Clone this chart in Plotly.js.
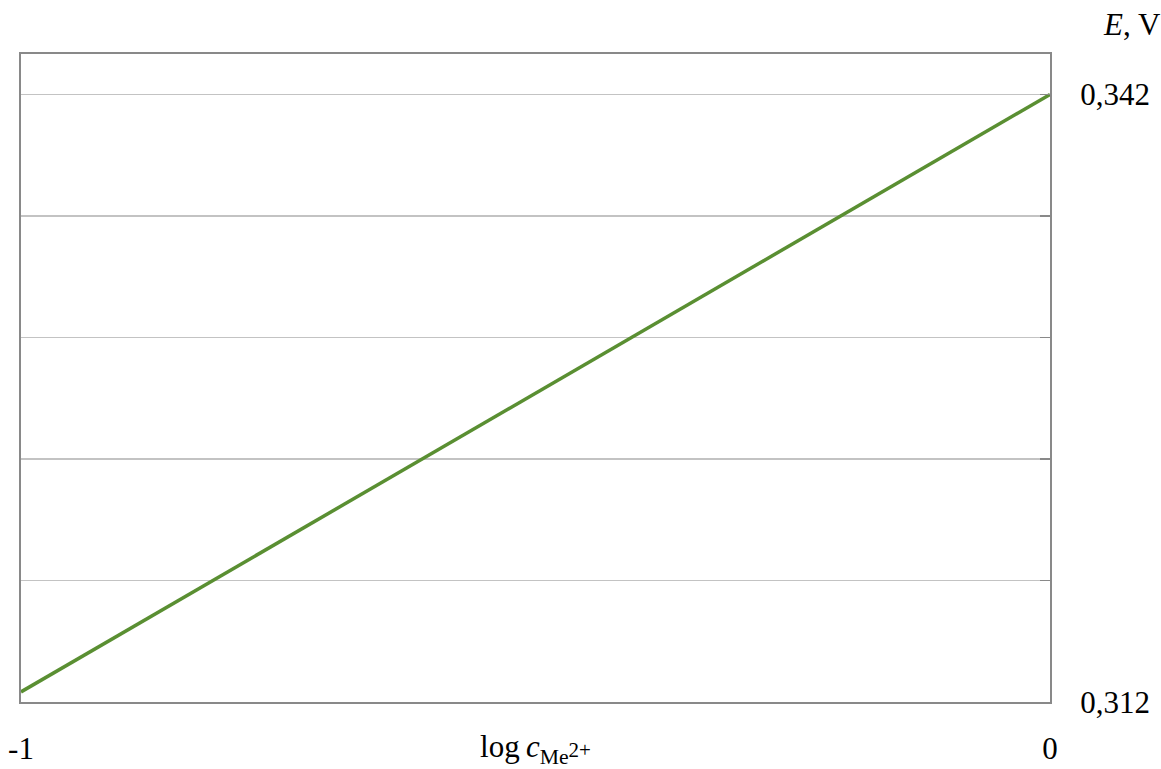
<!DOCTYPE html>
<html>
<head>
<meta charset="utf-8">
<script src="https://cdn.plot.ly/plotly-3.0.1.min.js"></script>
<style>html,body{margin:0;padding:0;background:#fff;}#chart{width:1161px;height:769px;}</style>
</head>
<body>
<div id="chart"></div>
<script>
const logC = [-1, 0];
const potentialE = [0.3125, 0.342];
const yGridVals = [0.312, 0.318, 0.324, 0.330, 0.336, 0.342];
const yTickText = ["0,312", "", "", "", "", "0,342"];
const xTickVals = [-1, 0];
const xTickText = ["-1", "0"];

const serif = "Liberation Serif, Cambria, Times New Roman, serif";

const trace = {
  x: logC,
  y: potentialE,
  type: "scatter",
  mode: "lines",
  line: {color: "#5a8f32", width: 3.5},
  hoverinfo: "skip"
};

const layout = {
  width: 1161,
  height: 769,
  margin: {l: 21, r: 111, t: 54, b: 67},
  paper_bgcolor: "#ffffff",
  plot_bgcolor: "#ffffff",
  showlegend: false,
  font: {family: serif, size: 31, color: "#000"},
  xaxis: {
    range: [-1, 0],
    tickvals: xTickVals,
    ticktext: xTickText,
    showgrid: false,
    zeroline: false,
    showline: true,
    linecolor: "#898989",
    linewidth: 2,
    mirror: true,
    ticks: "",
    ticklabelstandoff: 18,
    tickfont: {family: serif, size: 31, color: "#000"},
    title: {
      text: "log\u2009<i>c</i><sub>Me</sub><span style='font-size:21px'>2+</span>",
      font: {family: serif, size: 31, color: "#000"},
      standoff: 3
    }
  },
  yaxis: {
    range: [0.312, 0.344],
    side: "right",
    tickvals: yGridVals,
    ticktext: yTickText,
    showgrid: true,
    gridcolor: "#c3c3c3",
    gridwidth: 1.5,
    zeroline: false,
    showline: true,
    linecolor: "#898989",
    linewidth: 2,
    mirror: true,
    ticks: "inside",
    ticklen: 10,
    tickwidth: 1.5,
    tickcolor: "#898989",
    ticklabelstandoff: 22,
    tickfont: {family: serif, size: 31, color: "#000"}
  },
  annotations: [
    {
      text: "<i>E</i>, V",
      xref: "paper", yref: "paper",
      x: 1.08, y: 1.0,
      xanchor: "center", yanchor: "bottom",
      yshift: 10,
      showarrow: false,
      font: {family: serif, size: 31, color: "#000"}
    }
  ]
};

Plotly.newPlot("chart", [trace], layout, {displayModeBar: false, staticPlot: true});
</script>
</body>
</html>
